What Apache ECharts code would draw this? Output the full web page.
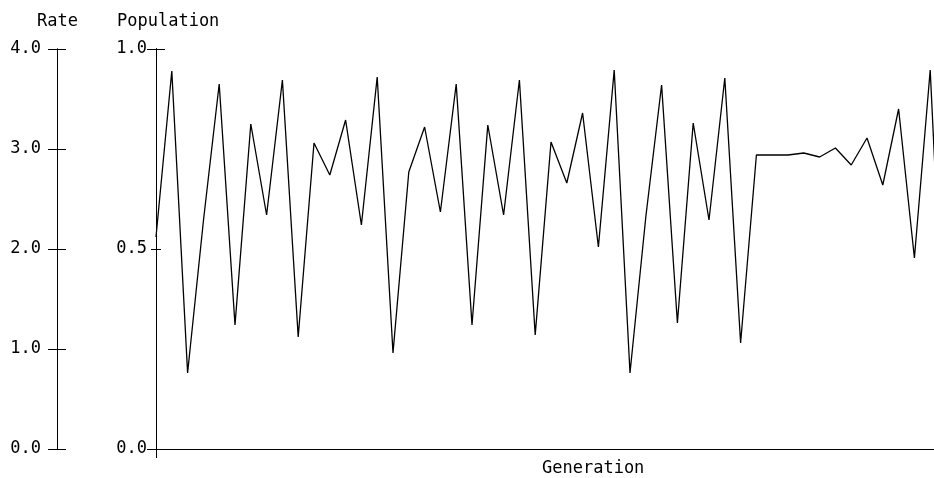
<!DOCTYPE html>
<html>
<head>
<meta charset="utf-8">
<script src="https://cdn.jsdelivr.net/npm/echarts@6/dist/echarts.min.js"></script>
<style>
html,body{margin:0;padding:0;background:#fff;}
#chart{width:934px;height:478px;}
</style>
</head>
<body>
<div id="chart"></div>
<script>
// Data
const generations = [0,1,2,3,4,5,6,7,8,9,10,11,12,13,14,15,16,17,18,19,20,21,22,23,24,25,26,27,28,29,30,31,32,33,34,35,36,37,38,39,40,41,42,43,44,45,46,47,48,49,50];
const population = [0.53,0.945,0.19,0.57,0.9125,0.31,0.8125,0.585,0.9225,0.28,0.765,0.685,0.8225,0.56,0.93,0.24,0.6925,0.805,0.5925,0.9125,0.31,0.81,0.585,0.9225,0.285,0.7675,0.665,0.84,0.505,0.9475,0.19,0.58,0.91,0.315,0.815,0.5725,0.9275,0.265,0.735,0.735,0.735,0.74,0.73,0.7525,0.71,0.7775,0.66,0.85,0.4775,0.9475,0.12];
const popTicks = [0, 0.5, 1];      // Population axis labels: 0.0, 0.5, 1.0
const rateTicks = [0, 1, 2, 3, 4]; // Rate axis labels: 0.0 .. 4.0
const rateName = 'Rate';
const popName = 'Population';
const xName = 'Generation';

const FONT = 'DejaVu Sans Mono';
const FS = 17;
const black = '#000';
const GRID_L = 156, GRID_R = 0, W = 934;
const GRID_W = W - GRID_L - GRID_R;

const chart = echarts.init(document.getElementById('chart'), null, {renderer: 'canvas'});

function yAx(opts) {
  return Object.assign({
    type: 'value',
    position: 'left',
    splitLine: {show: false},
    axisLine: {show: true, onZero: false, lineStyle: {color: black, width: 1}},
    axisTick: {show: true, lineStyle: {color: black, width: 1}},
    axisLabel: {show: false}
  }, opts);
}
const tick = len => ({show: true, length: len, lineStyle: {color: black, width: 1}});

const fmt = v => v.toFixed(1);
const titleStyle = {fontFamily: FONT, fontSize: FS, fontWeight: 'normal', color: black};

chart.setOption({
  animation: false,
  backgroundColor: '#fff',
  title: [
    {text: rateName, left: 37, top: 13, padding: 0, textStyle: titleStyle},
    {text: popName, left: 117, top: 13, padding: 0, textStyle: titleStyle},
    {text: xName, left: 542, top: 460, padding: 0, textStyle: titleStyle}
  ],
  grid: {left: GRID_L, right: GRID_R, top: 49, bottom: 29, containLabel: false},
  xAxis: {
    type: 'value', min: 0, max: 49.24, interval: 1000,
    axisLine: {show: true, onZero: false, lineStyle: {color: black, width: 1}},
    axisTick: tick(9),
    axisLabel: {show: false},
    splitLine: {show: false}
  },
  yAxis: [
    // Population axis (series axis) with labels and short ticks
    yAx({min: popTicks[0], max: popTicks[popTicks.length-1], interval: popTicks[1]-popTicks[0], offset: 0,
      axisTick: tick(5),
      axisLabel: {show: true, margin: 9, formatter: fmt, fontFamily: FONT, fontSize: FS, color: black}}),
    yAx({min: 0, max: 1, interval: 0.5, position: 'right', offset: -GRID_W, axisTick: tick(5)}),
    yAx({min: 0, max: 1, interval: 1, offset: 0, axisTick: tick(9)}),
    yAx({min: 0, max: 1, interval: 1, position: 'right', offset: -GRID_W, axisTick: tick(9)}),
    // Rate axis
    yAx({min: rateTicks[0], max: rateTicks[rateTicks.length-1], interval: 1, offset: 99,
      axisTick: tick(9),
      axisLabel: {show: true, margin: 16, formatter: fmt, fontFamily: FONT, fontSize: FS, color: black}}),
    yAx({min: 0, max: 4, interval: 1, position: 'right', offset: -(GRID_W + 99), axisTick: tick(9)})
  ],
  series: [{
    type: 'line',
    yAxisIndex: 0,
    data: generations.map((g, i) => [g, population[i]]),
    showSymbol: false,
    symbol: 'none',
    clip: true,
    lineStyle: {color: black, width: 1.3},
    silent: true
  }]
});
</script>
</body>
</html>
